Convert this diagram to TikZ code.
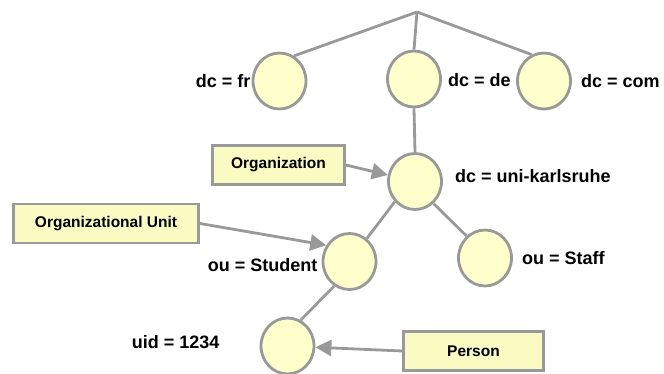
\documentclass[tikz,border=0pt]{standalone}
\usepackage{fontspec}
\setmainfont{Liberation Sans}
\usetikzlibrary{shapes.geometric, arrows.meta, positioning}
\definecolor{edgegray}{RGB}{153,153,153}
\definecolor{entryfill}{RGB}{255,255,204}
\definecolor{classfill}{RGB}{250,250,195}
\tikzset{
    entry/.style={ellipse, draw=edgegray, fill=entryfill, line width=2.8pt, minimum width=53pt, minimum height=56pt, inner sep=0pt},
    rdn/.style={font=\fontsize{18}{20}\selectfont\bfseries, inner sep=1pt},
    objclass/.style={rectangle, draw=edgegray, fill=classfill, line width=2.8pt, minimum height=39pt, text centered, font=\fontsize{15.5}{18}\selectfont\bfseries},
    branch/.style={draw=edgegray, line width=2.8pt},
    pointer/.style={-{Triangle[length=16pt, width=16pt]}, draw=edgegray, line width=2.8pt}
}
\begin{document}
\begin{tikzpicture}[x=1pt, y=-1pt]
    \useasboundingbox (0,0) rectangle (664,374);
    % Directory entries
    \coordinate (root) at (417,12);
    \node[entry] (fr) at (279.5,81) {};
    \node[entry] (de) at (414,79) {};
    \node[entry] (com) at (544,81) {};
    \node[entry] (uni) at (415,181.5) {};
    \node[entry] (student) at (349.5,261.5) {};
    \node[entry] (staff) at (485,258) {};
    \node[entry] (uid) at (287.5,346) {};

    % RDN labels
    \node[rdn, left=0pt of fr] (frlabel) {dc = fr};
    \node[rdn, right=5pt of de, yshift=-1pt] (delabel) {dc = de};
    \node[rdn, right=8pt of com] (comlabel) {dc = com};
    \node[rdn, right=11pt of uni, yshift=5pt] (unilabel) {dc = uni-karlsruhe};
    \node[rdn, left=3pt of student, yshift=-4pt] (studentlabel) {ou = Student};
    \node[rdn, right=8pt of staff] (stafflabel) {ou = Staff};
    \node[rdn, left=39pt of uid, yshift=4pt] (uidlabel) {uid = 1234};

    % Object classes
    \node[objclass, minimum width=132pt] (org) at (278.5,165) {Organization};
    \node[objclass, minimum width=185pt] (orgunit) at (106,223.5) {Organizational Unit};
    \node[objclass, minimum width=140pt] (person) at (473.5,351) {Person};

    % Tree branches
    \draw[branch] (root) -- (fr.60);
    \draw[branch] (root) -- (de.north);
    \draw[branch] (root) -- (com.115);
    \draw[branch] (de.south) -- (uni.north);
    \draw[branch] (uni.225) -- (student.53);
    \draw[branch] (uni.-50) -- (staff.130);
    \draw[branch] (student.238) -- (uid.63);

    % Class pointers
    \draw[pointer] (org.east) -- (uni);
    \draw[pointer] (orgunit.east) -- (student.145);
    \draw[pointer] (person.west) -- (uid);
\end{tikzpicture}
\end{document}
